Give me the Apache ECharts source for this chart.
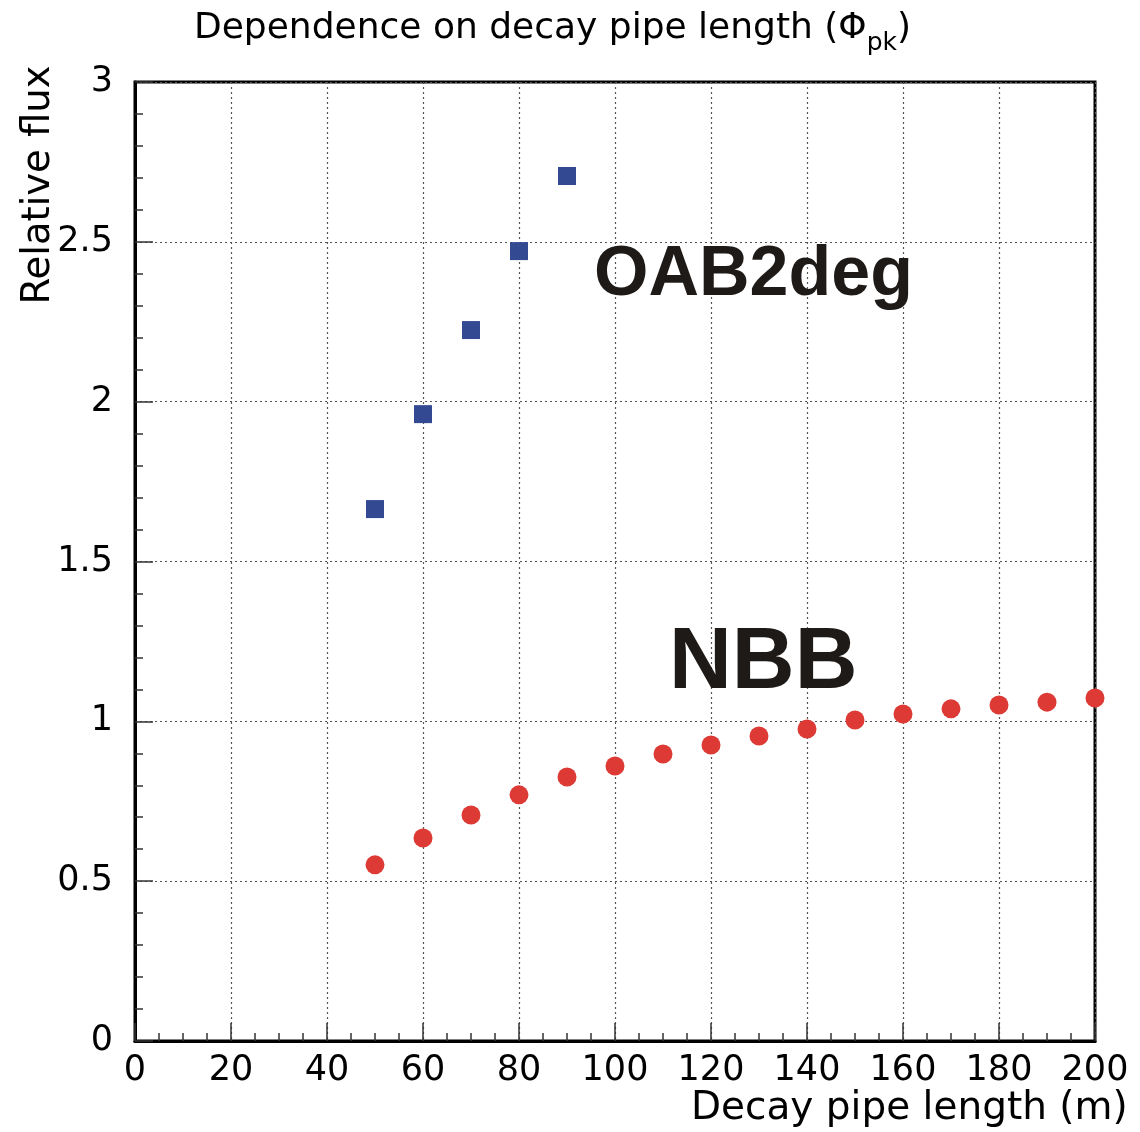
<!DOCTYPE html>
<html>
<head>
<meta charset="utf-8">
<script src="https://cdn.jsdelivr.net/npm/echarts@6/dist/echarts.min.js"></script>
<style>
html,body{margin:0;padding:0;background:#fff;}
#chart{width:1140px;height:1132px;}
</style>
</head>
<body>
<div id="chart"></div>
<script>
// ---- data ----
const oabLength = [50, 60, 70, 80, 90];
const oabFlux   = [1.664, 1.961, 2.224, 2.471, 2.706];
const nbbLength = [50, 60, 70, 80, 90, 100, 110, 120, 130, 140, 150, 160, 170, 180, 190, 200];
const nbbFlux   = [0.551, 0.635, 0.707, 0.770, 0.826, 0.860, 0.898, 0.926, 0.954, 0.976, 1.004, 1.023, 1.039, 1.051, 1.060, 1.073];
const titleMain = 'Dependence on decay pipe length (Φ';
const titleSub = 'pk';
const xName = 'Decay pipe length (m)';
const yName = 'Relative flux';
const labelOAB = 'OAB2deg';
const labelNBB = 'NBB';

const pairs = (xs, ys) => xs.map((x, i) => [x, ys[i]]);

const chart = echarts.init(document.getElementById('chart'), null, {renderer: 'canvas'});
const tickFont = 'DejaVu Sans';
const axisCommon = {
  axisLine: {show: true, lineStyle: {color: '#000', width: 3}},
  axisTick: {show: true, inside: true, length: 18, lineStyle: {color: '#333', width: 1.5}},
  minorTick: {show: true, length: 8, lineStyle: {color: '#333', width: 1.5}},
  splitLine: {show: true, lineStyle: {color: '#555', width: 1.2, type: [2, 3]}},
  axisLabel: {color: '#000', fontFamily: tickFont, fontSize: 35, hideOverlap: false}
};

chart.setOption({
  animation: false,
  backgroundColor: '#fff',
  title: {
    text: '{a|' + titleMain + '}{s|' + titleSub + '}{a|)}',
    left: 189, top: 6,
    textStyle: {
      fontWeight: 'normal',
      rich: {
        a: {fontFamily: 'DejaVu Sans', fontWeight: 'normal', fontSize: 36, color: '#000', lineHeight: 40, verticalAlign: 'top'},
        s: {fontFamily: 'DejaVu Sans', fontWeight: 'normal', fontSize: 25, color: '#000', lineHeight: 25, padding: [20, 0, 0, 0], verticalAlign: 'top'}
      }
    }
  },
  grid: {left: 135, right: 45, top: 82, bottom: 91, show: true, borderColor: '#000', borderWidth: 3,
         containLabel: false, outerBoundsMode: 'none'},
  xAxis: Object.assign({}, axisCommon, {
    type: 'value', min: 0, max: 200, interval: 20,
    minorTick: Object.assign({}, axisCommon.minorTick, {splitNumber: 4}),
    axisLabel: Object.assign({}, axisCommon.axisLabel, {margin: 12}),
    name: xName, nameLocation: 'end', nameGap: -404,
    nameTextStyle: {fontFamily: tickFont, fontSize: 39, color: '#000', verticalAlign: 'top', padding: [48, 0, 0, 0]}
  }),
  yAxis: Object.assign({}, axisCommon, {
    type: 'value', min: 0, max: 3, interval: 0.5,
    minorTick: Object.assign({}, axisCommon.minorTick, {splitNumber: 5}),
    axisLabel: Object.assign({}, axisCommon.axisLabel, {margin: 22})
  }),
  graphic: [
    {type: 'text', x: 39, y: 185, rotation: Math.PI / 2, z: 10,
     style: {text: yName, fontFamily: tickFont, fontSize: 38.5, fill: '#000', align: 'center', verticalAlign: 'middle'}},
    {type: 'text', x: 594, y: 276, z: 10,
     style: {text: labelOAB, fontFamily: 'Liberation Sans', fontWeight: 'bold', fontSize: 70, fill: '#1e1a18', align: 'left', verticalAlign: 'middle'}},
    {type: 'text', x: 669, y: 664, z: 10,
     style: {text: labelNBB, fontFamily: 'Liberation Sans', fontWeight: 'bold', fontSize: 87, fill: '#1e1a18', align: 'left', verticalAlign: 'middle'}}
  ],
  series: [
    {name: 'OAB2deg', type: 'scatter', data: pairs(oabLength, oabFlux), symbol: 'rect', symbolSize: 18,
     itemStyle: {color: '#334a92', opacity: 1}, z: 5},
    {name: 'NBB', type: 'scatter', data: pairs(nbbLength, nbbFlux), symbol: 'circle', symbolSize: 19,
     itemStyle: {color: '#de3a35', opacity: 1}, z: 5}
  ]
});
</script>
</body>
</html>
